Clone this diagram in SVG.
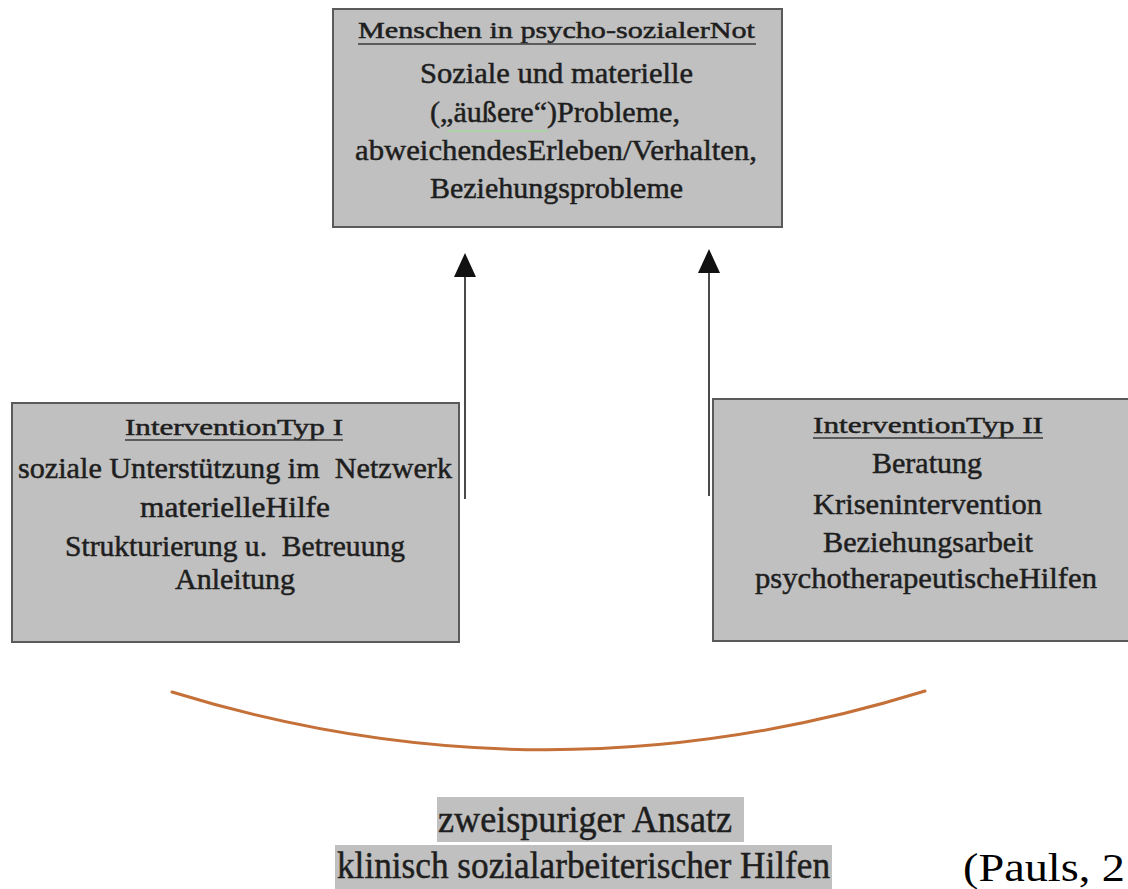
<svg xmlns="http://www.w3.org/2000/svg" width="1128" height="889" viewBox="0 0 1128 889">
  <style>
    .box { fill: #c0c0c0; stroke: #5a5a5a; stroke-width: 2; }
    .t { font-family: "Liberation Serif", "Times New Roman", serif; fill: #1e1e1e; stroke: #1e1e1e; stroke-width: 0.5; text-anchor: middle; white-space: pre; }
    .title { font-size: 24px; }
    .body { font-size: 30px; }
    .ul { stroke: #3a3a3a; stroke-width: 1.5; }
    .conn { stroke: #4a4a4a; stroke-width: 2; fill: none; }
    .hl { fill: #c0c0c0; }
  </style>
  <defs>
    <marker id="arrow" viewBox="0 0 24 22" refX="0" refY="11" markerWidth="24" markerHeight="22" markerUnits="userSpaceOnUse" orient="auto">
      <path d="M0,0 L24,11 L0,22 z" fill="#111"/>
    </marker>
  </defs>
  <rect width="1128" height="889" fill="#ffffff"/>

  <g id="node-top">
    <rect class="box" x="333" y="9" width="449" height="218"/>
    <text class="t title" x="556.5" y="38" textLength="397" lengthAdjust="spacingAndGlyphs">Menschen in psycho-sozialerNot</text>
    <line class="ul" x1="358" y1="44" x2="756" y2="44"/>
    <text class="t body" x="556.5" y="83" textLength="273" lengthAdjust="spacingAndGlyphs">Soziale und materielle</text>
    <line x1="447" y1="131" x2="547" y2="131" stroke="#a8d8a0" stroke-width="1.5"/>
    <text class="t body" x="555" y="122" textLength="250" lengthAdjust="spacingAndGlyphs">(„äußere“)Probleme,</text>
    <text class="t body" x="556" y="160" textLength="402" lengthAdjust="spacingAndGlyphs">abweichendesErleben/Verhalten,</text>
    <text class="t body" x="556.5" y="198" textLength="253" lengthAdjust="spacingAndGlyphs">Beziehungsprobleme</text>
  </g>

  <g id="node-typ1">
    <rect class="box" x="12" y="403" width="447" height="239"/>
    <text class="t title" x="234" y="435" textLength="218" lengthAdjust="spacingAndGlyphs">InterventionTyp I</text>
    <line class="ul" x1="125" y1="440" x2="343" y2="440"/>
    <text class="t body" x="235" y="478" textLength="434" lengthAdjust="spacingAndGlyphs">soziale Unterstützung im  Netzwerk</text>
    <text class="t body" x="235" y="517" textLength="190" lengthAdjust="spacingAndGlyphs">materielleHilfe</text>
    <text class="t body" x="235" y="556" textLength="340" lengthAdjust="spacingAndGlyphs">Strukturierung u.  Betreuung</text>
    <text class="t body" x="235" y="589" textLength="120" lengthAdjust="spacingAndGlyphs">Anleitung</text>
  </g>

  <g id="node-typ2">
    <rect class="box" x="713" y="399" width="430" height="242"/>
    <text class="t title" x="928" y="433" textLength="230" lengthAdjust="spacingAndGlyphs">InterventionTyp II</text>
    <line class="ul" x1="813" y1="438" x2="1043" y2="438"/>
    <text class="t body" x="927" y="473" textLength="110" lengthAdjust="spacingAndGlyphs">Beratung</text>
    <text class="t body" x="927.5" y="514" textLength="229" lengthAdjust="spacingAndGlyphs">Krisenintervention</text>
    <text class="t body" x="928" y="552" textLength="210" lengthAdjust="spacingAndGlyphs">Beziehungsarbeit</text>
    <text class="t body" x="926" y="588" textLength="342" lengthAdjust="spacingAndGlyphs">psychotherapeutischeHilfen</text>
  </g>

  <g id="connectors">
    <line class="conn" x1="465" y1="499" x2="465" y2="277" marker-end="url(#arrow)"/>
    <line class="conn" x1="709" y1="496" x2="709" y2="273" marker-end="url(#arrow)"/>
    <path d="M172,692 Q548,808 925,691" fill="none" stroke="#c47038" stroke-width="3" stroke-linecap="round"/>
  </g>

  <g id="caption">
    <rect class="hl" x="437" y="797" width="307" height="45"/>
    <rect class="hl" x="335" y="845" width="497" height="44"/>
    <text class="t" font-size="38" x="585" y="832" textLength="294" lengthAdjust="spacingAndGlyphs">zweispuriger Ansatz</text>
    <text class="t" font-size="38" x="583.5" y="878" textLength="493" lengthAdjust="spacingAndGlyphs">klinisch sozialarbeiterischer Hilfen</text>
  </g>

  <g id="source">
    <text font-family="Liberation Serif, Times New Roman, serif" font-size="41" fill="#000" x="963" y="881" textLength="162" lengthAdjust="spacingAndGlyphs">(Pauls, 2</text>
  </g>
</svg>
